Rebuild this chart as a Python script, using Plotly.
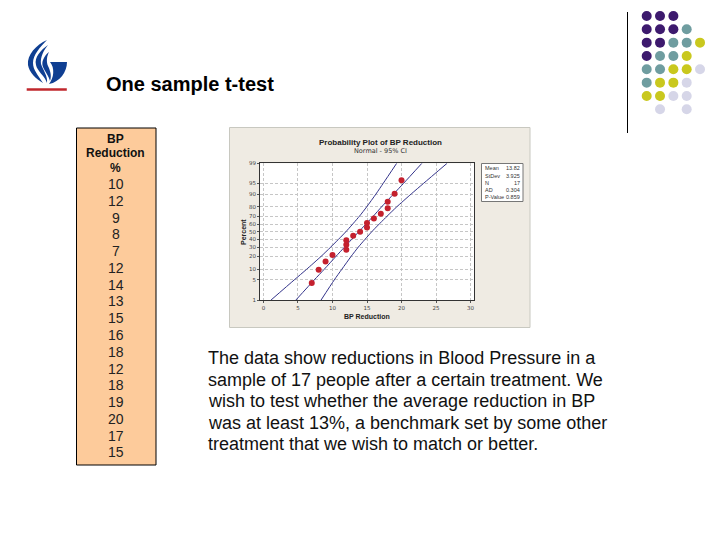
from statistics import NormalDist
import plotly.graph_objects as go

W, H = 720, 540
# plotly keeps a small margin round the plot area whatever margin is set to
PLOT_W, PLOT_H, PAD_T = 719, 534, 3

# probability plot data
bp_sorted = [7, 8, 9, 10, 12, 12, 12, 13, 14, 15, 15, 16, 17, 18, 18, 19, 20]
percent = [4.0, 9.8, 15.5, 21.3, 27.0, 32.8, 38.5, 44.3, 50.0, 55.7, 61.5, 67.2, 73.0, 78.7, 84.5, 90.2, 96.0]

ci_percent = [1, 5, 10, 20, 30, 50, 70, 80, 90, 95, 99]
ci_low = [1.1, 4.45, 6.25, 8.35, 9.75, 11.95, 13.9, 14.95, 16.3, 17.35, 19.3]
ci_fit = [4.7, 7.35, 8.8, 10.5, 11.75, 13.82, 15.9, 17.1, 18.85, 20.3, 22.95]
ci_high = [8.35, 10.25, 11.35, 12.7, 13.75, 15.7, 17.9, 19.3, 21.4, 23.2, 26.6]

y_ticks = [1, 5, 10, 20, 30, 40, 50, 60, 70, 80, 90, 95, 99]
x_ticks = [0, 5, 10, 15, 20, 25, 30]

stat_names = ["Mean", "StDev", "N", "AD", "P-Value"]
stat_values = ["13.82", "3.925", "17", "0.304", "0.859"]

# table column on the left of the slide
table_header = ["BP", "Reduction", "%"]
table_values = [10, 12, 9, 8, 7, 12, 14, 13, 15, 16, 18, 12, 18, 19, 20, 17, 15]

body_lines = [
    "The data show reductions in Blood Pressure in a",
    "sample of 17 people after a certain treatment. We",
    "wish to test whether the average reduction in BP",
    "was at least 13%, a benchmark set by some other",
    "treatment that we wish to match or better.",
]

# decoration dots in the corner, P purple, T teal, Y yellow, L lavender
dot_rows = ["PPP", "PPPT", "PPTTY", "PTTY", "TTYYL", "TYYL", "YYLL", " L L"]
dot_colors = {"P": "#3d1a6e", "T": "#6f9da0", "Y": "#c9c81e", "L": "#d6d6e8"}


def probit(p):
    return NormalDist().inv_cdf(p / 100)


def px(x):
    return x / PLOT_W


def py(y):
    return 1 - (y - PAD_T) / PLOT_H


def rect(x0, y0, x1, y1, fill, line=None, width=1):
    return dict(type="rect", xref="paper", yref="paper", layer="below",
                x0=px(x0), x1=px(x1), y0=py(y0), y1=py(y1), fillcolor=fill,
                line=dict(color=line, width=width) if line else dict(width=0))


def label(x, y, text, size, color="black", anchor="center", family="Liberation Sans", angle=0):
    return dict(xref="paper", yref="paper", x=px(x), y=py(y), text=text, showarrow=False,
                xanchor=anchor, yanchor="middle", textangle=angle, borderpad=0,
                font=dict(family=family, size=size, color=color))


def abs_path(d):
    # path given in page pixels, turned into paper coords
    out = []
    for tok in d.split():
        if "," in tok:
            a, b = tok.split(",")
            out.append(f"{px(float(a)):.5f},{py(float(b)):.5f}")
        else:
            out.append(tok)
    return " ".join(out)


fig = go.Figure()

for vals in (ci_low, ci_fit, ci_high):
    fig.add_trace(go.Scatter(
        x=vals, y=[probit(p) for p in ci_percent], mode="lines",
        line=dict(color="#33338a", width=1, shape="spline", smoothing=0.6),
        hoverinfo="skip", showlegend=False
    ))

fig.add_trace(go.Scatter(
    x=bp_sorted, y=[probit(p) for p in percent], mode="markers",
    marker=dict(color="#c4202e", size=6), showlegend=False
))

shapes = [
    rect(229.5, 127.5, 530, 327.5, "#efebe3", "#c8c8c0"),
    rect(260, 163.3, 474, 300, "white"),
    rect(481.5, 163.5, 523, 201.5, "white", "#777777"),
    rect(76.5, 128, 156, 465, "#fdcb9b", "black"),
    rect(26.7, 88.2, 66.8, 90.8, "#c0272d"),
    dict(type="line", xref="paper", yref="paper", x0=px(627.5), x1=px(627.5), y0=py(12), y1=py(133),
         line=dict(color="black", width=1)),
]

# logo: three flames and the bowl
for d in ["M 47,40 C 36,45 27,55 28,65 C 29,72 36,79 43,83 C 38,75 33,70 33,63 C 33,55 40,47 47,40 Z",
          "M 48,45 C 41,50 34,57 36,65 C 37,71 45,76 47,83 C 48,76 43,70 41,64 C 40,57 44,50 48,45 Z",
          "M 49,52 C 44,56 41,62 43,67 C 45,72 49,76 50,81 C 52,76 50,70 48,66 C 46,61 47,56 49,52 Z",
          "M 50,62 L 67,62 C 67,72 60,82 49,84 C 54,78 55,68 50,62 Z"]:
    shapes.append(dict(type="path", xref="paper", yref="paper", path=abs_path(d),
                       fillcolor="#0f3f92", line=dict(width=0)))

for r, row in enumerate(dot_rows):
    for c, ch in enumerate(row):
        if ch == " ":
            continue
        cx = 646.7 + c * 13.33
        cy = 16 + r * 13.33
        shapes.append(dict(type="circle", xref="paper", yref="paper",
                           x0=px(cx - 5), x1=px(cx + 5), y0=py(cy - 5), y1=py(cy + 5),
                           fillcolor=dot_colors[ch], line=dict(width=0)))

notes = [
    label(104.5, 84, "<b>One sample t-test</b>", 20, anchor="left"),
    label(380, 142.5, "<b>Probability Plot of BP Reduction</b>", 8, color="#222222"),
    label(380, 151.5, "Normal - 95% CI", 6.5, color="#333333", family="DejaVu Sans"),
    label(367, 316.5, "<b>BP Reduction</b>", 7, color="#222222"),
    label(243, 232, "<b>Percent</b>", 7, color="#222222", angle=-90),
]

for i, t in enumerate(table_header):
    notes.append(label(116, 139 + i * 14.5, f"<b>{t}</b>", 12, color="#111111"))
for i, v in enumerate(table_values):
    notes.append(label(116, 184 + i * 16.78, str(v), 14, color="#222222"))
for i, t in enumerate(body_lines):
    notes.append(label(207, 358 + i * 21.6, t, 18, color="#111111", anchor="left"))
for i, (n, v) in enumerate(zip(stat_names, stat_values)):
    notes.append(label(484, 168.3 + i * 7.3, n, 5.5, color="#333333", anchor="left"))
    notes.append(label(521, 168.3 + i * 7.3, v, 5.5, color="#333333", anchor="right"))

grid = dict(showgrid=True, gridcolor="#c6c6c6", griddash="3px,2px", gridwidth=1, zeroline=False,
            showline=True, linecolor="#333333", linewidth=1, mirror=True,
            ticks="outside", ticklen=2, tickcolor="#555555",
            tickfont=dict(family="DejaVu Sans", size=5.5, color="#444444"))

fig.update_layout(
    width=W, height=H, margin=dict(l=0, r=0, t=0, b=0),
    paper_bgcolor="white", plot_bgcolor="rgba(0,0,0,0)", showlegend=False,
    xaxis=dict(domain=[px(260), px(474)], range=[-0.5, 30.5], tickvals=x_ticks, **grid),
    yaxis=dict(domain=[py(300), py(163.3)], range=[probit(1), probit(99)],
               tickvals=[probit(p) for p in y_ticks], ticktext=[str(p) for p in y_ticks], **grid),
    shapes=shapes, annotations=notes,
)

fig.write_html("out.html", config=dict(displayModeBar=False),
               post_script="document.body.style.margin='0';")
